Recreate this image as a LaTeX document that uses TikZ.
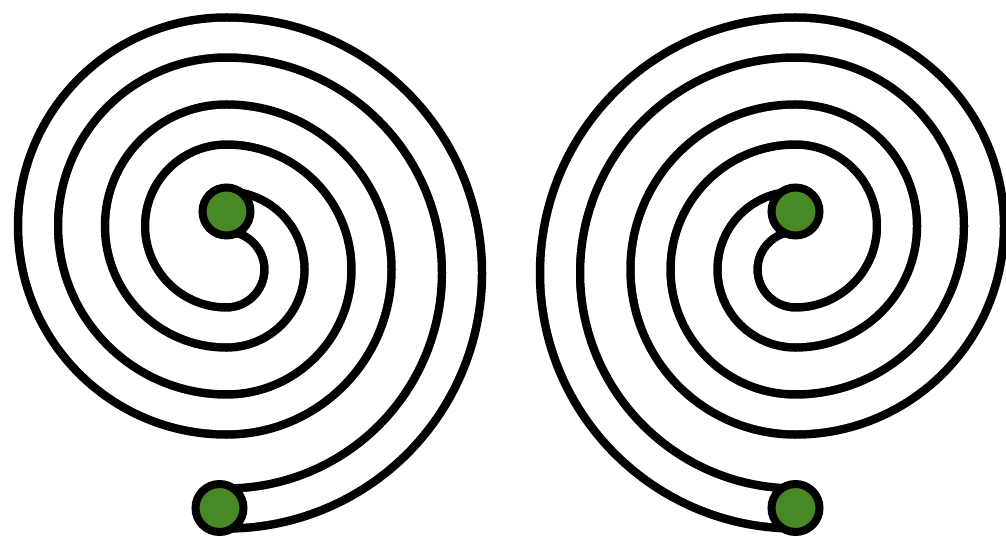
\documentclass[tikz,border=0pt]{standalone}
\usetikzlibrary{backgrounds}
\definecolor{LeafGreen}{RGB}{72,136,37}
\tikzset{
  coil/.style={draw=black,line width=8.5pt,double=white,double distance=31.5pt},
  knob/.style={circle,draw=black,line width=8pt,fill=LeafGreen,minimum size=48pt,inner sep=0pt}
}
\begin{document}
\begin{tikzpicture}[x=1pt,y=1pt]
  \useasboundingbox (0,0) rectangle (1006,536);
  % left spiral, winds clockwise
  \node[knob] (inL) at (226.5,324.5) {};
  \node[knob] (outL) at (219.5,28) {};
  % right spiral, mirror image
  \node[knob] (inR) at (795.5,324.5) {};
  \node[knob] (outR) at (795.5,28) {};
  \begin{pgfonlayer}{background}
    \draw[coil] (inL.center)
      arc[start angle=90,end angle=-90,radius=58]
      arc[start angle=270,end angle=90,radius=101.5]
      arc[start angle=90,end angle=-90,radius=145]
      arc[start angle=270,end angle=90,radius=188.5]
      arc[start angle=90,end angle=-91.7,radius=235.5];
    \draw[coil] (inR.center)
      arc[start angle=90,end angle=270,radius=58]
      arc[start angle=-90,end angle=90,radius=101.5]
      arc[start angle=90,end angle=270,radius=145]
      arc[start angle=-90,end angle=90,radius=188.5]
      arc[start angle=90,end angle=270,radius=235.5];
  \end{pgfonlayer}
\end{tikzpicture}
\end{document}
